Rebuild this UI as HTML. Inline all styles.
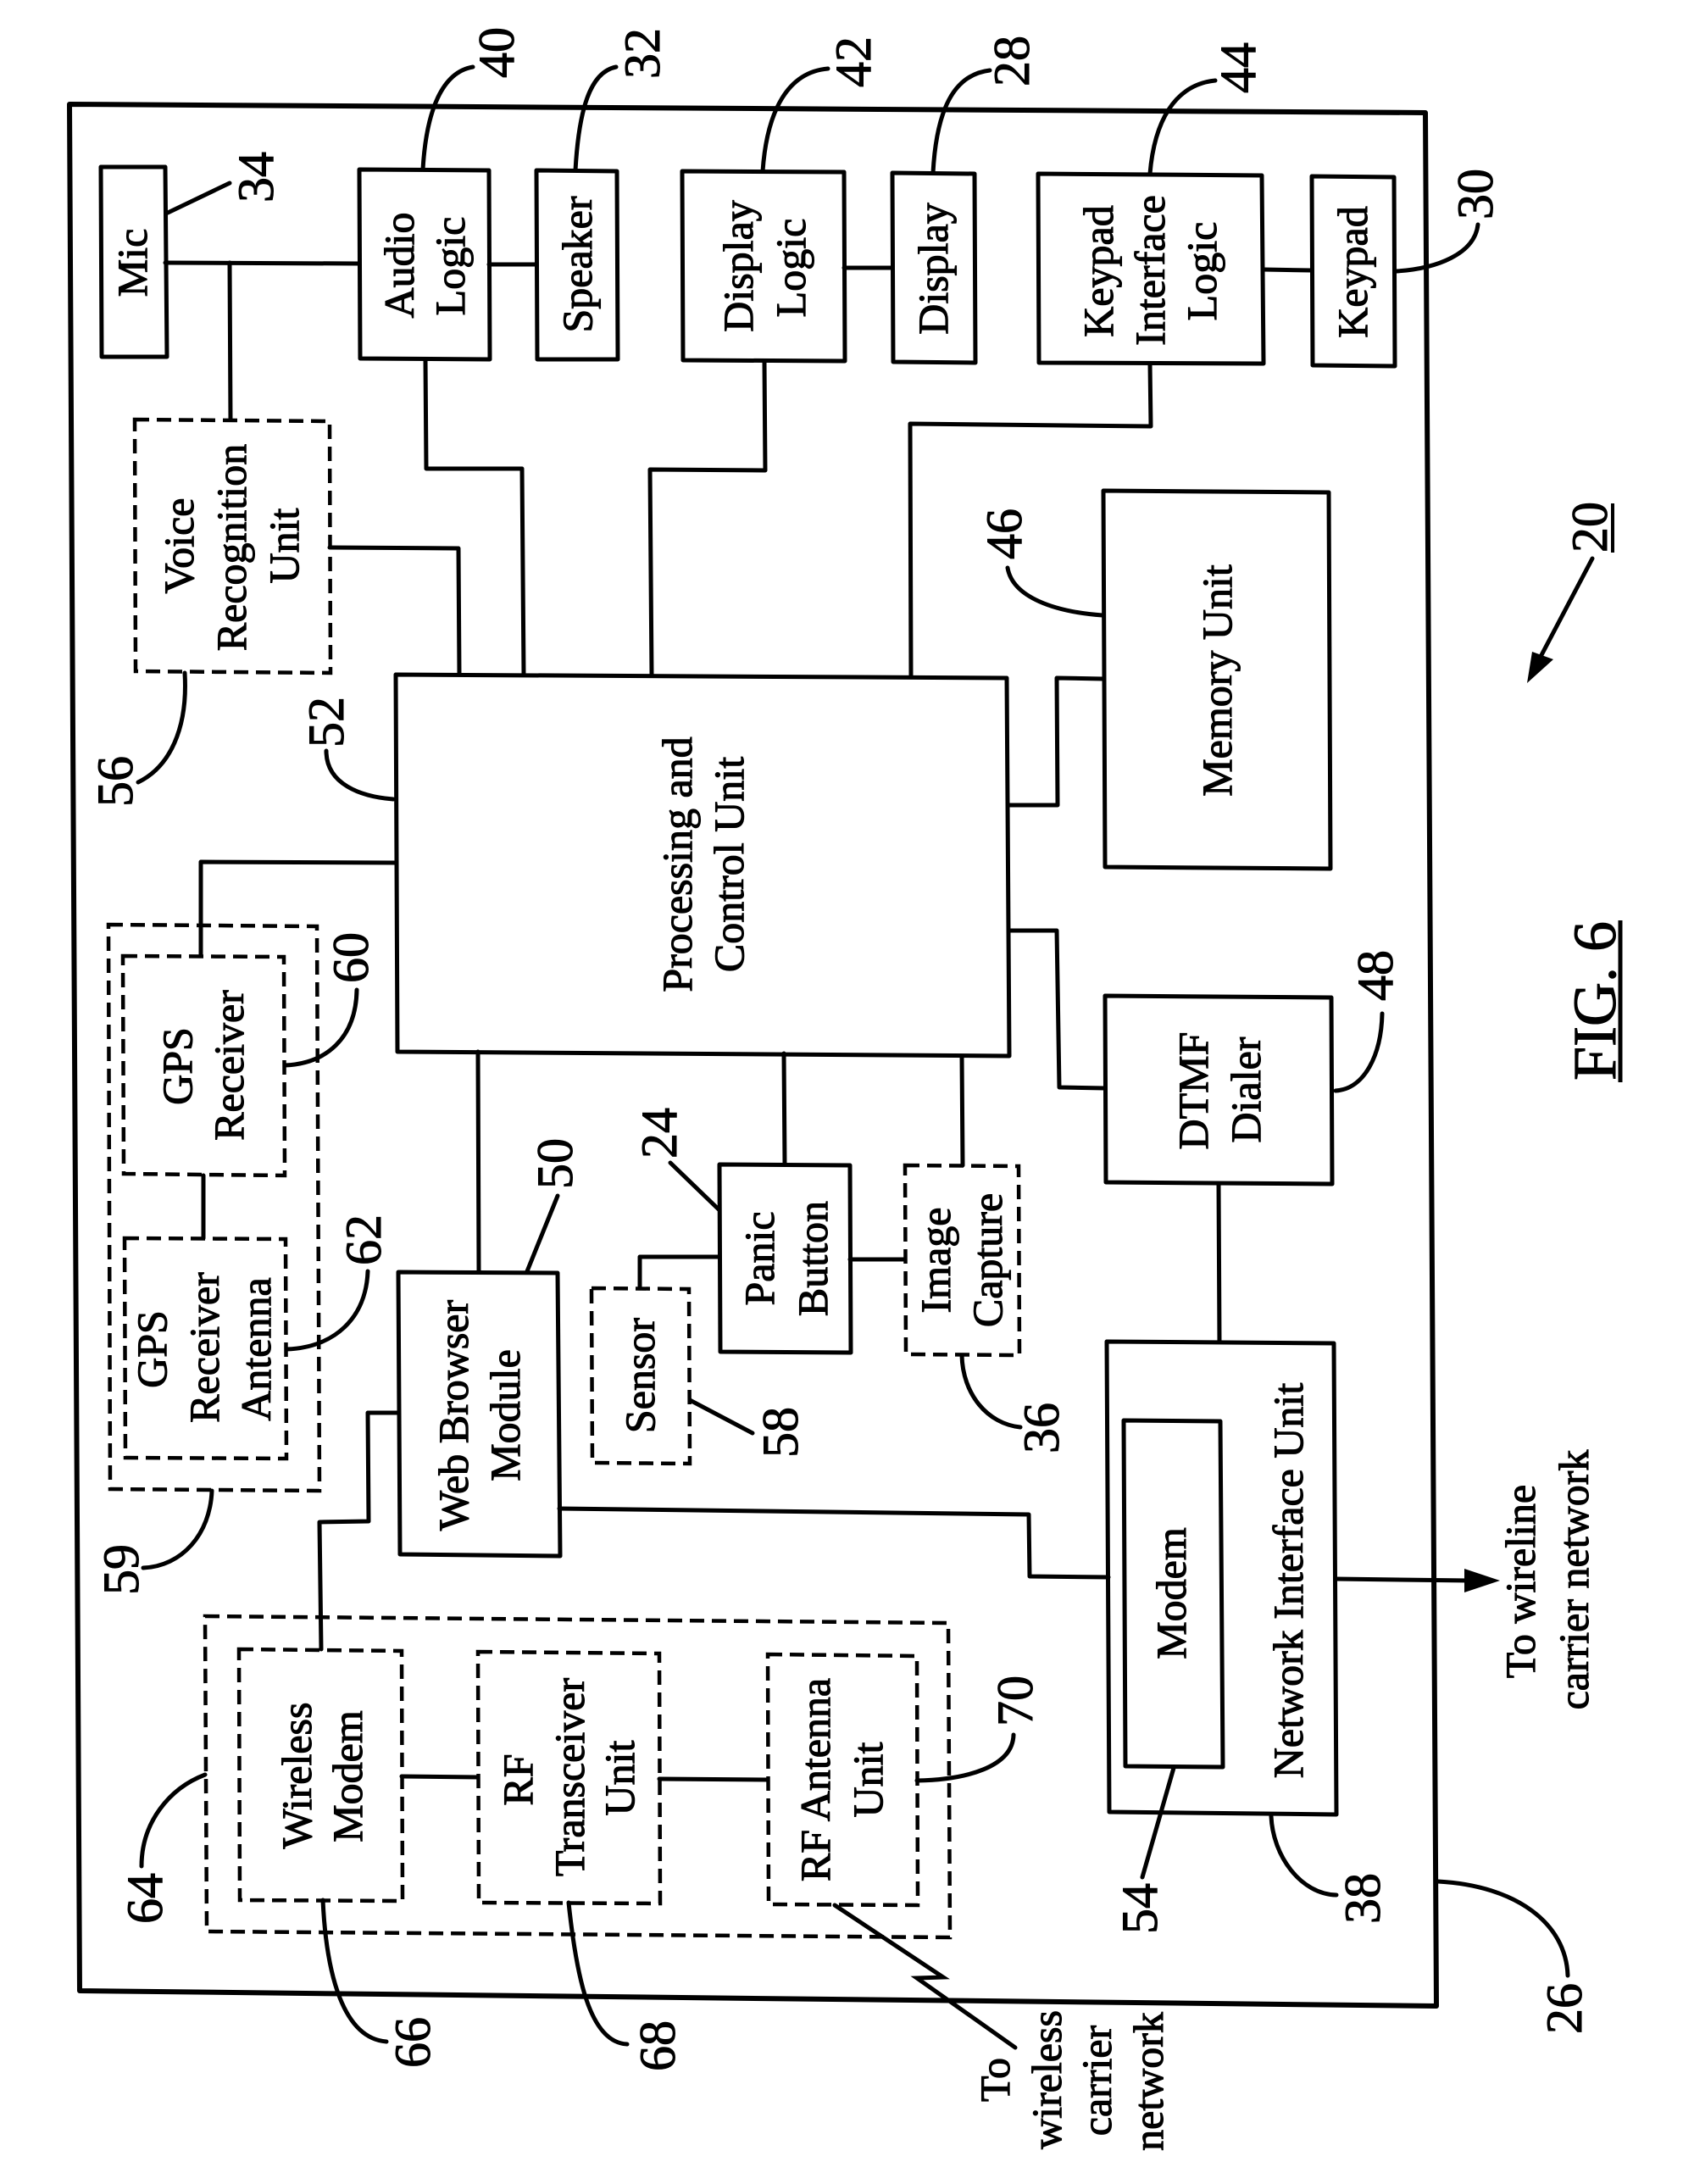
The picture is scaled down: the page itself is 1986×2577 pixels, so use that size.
<!DOCTYPE html>
<html>
<head>
<meta charset="utf-8">
<style>
html,body{margin:0;padding:0;background:#fff;width:1986px;height:2577px;overflow:hidden}
svg{display:block}
.b{fill:#fff;stroke:#000;stroke-width:5;stroke-linejoin:round}
.d{fill:none;stroke:#000;stroke-width:4.5;stroke-dasharray:17 9}
.l{fill:none;stroke:#000;stroke-width:5;stroke-linejoin:round;stroke-linecap:round}
.t{font-family:"Liberation Serif",serif;font-size:50px;fill:#000;stroke:#000;stroke-width:1.1;text-anchor:middle}
.n{font-family:"Liberation Serif",serif;font-size:60px;fill:#000;stroke:#000;stroke-width:1;text-anchor:middle}
</style>
</head>
<body>
<svg width="1986" height="2577" viewBox="0 0 1986 2577" xmlns="http://www.w3.org/2000/svg">
<rect width="1986" height="2577" fill="#fff"/>
<!-- frame -->
<polygon points="82,123 1682,133 1695,2367 94,2349" fill="#fff" stroke="#000" stroke-width="6" stroke-linejoin="round"/>

<!-- dashed boxes -->
<g class="d">
<polygon points="159,495 389,497 390,794 160,792"/>
<polygon points="128,1091 374,1093 377,1759 130,1757"/>
<polygon points="145,1128 335,1129 336,1387 146,1385"/>
<polygon points="147,1461 337,1462 338,1721 148,1720"/>
<polygon points="698,1520 813,1521 814,1727 699,1726"/>
<polygon points="1068,1375 1202,1376 1203,1599 1069,1598"/>
<polygon points="242,1907 1119,1915 1121,2286 244,2279"/>
<polygon points="282,1946 474,1948 475,2243 283,2242"/>
<polygon points="564,1949 778,1951 779,2246 565,2245"/>
<polygon points="906,1952 1082,1954 1083,2248 907,2247"/>
</g>

<!-- solid boxes -->
<g class="b">
<polygon points="119,197 195,197 197,421 120,421"/>
<polygon points="424,200 577,201 578,424 425,423"/>
<polygon points="633,201 728,202 729,424 634,424"/>
<polygon points="805,202 996,203 997,426 806,425"/>
<polygon points="1053,204 1150,205 1151,428 1054,427"/>
<polygon points="1225,205 1489,207 1491,429 1226,428"/>
<polygon points="1548,208 1645,209 1646,432 1549,431"/>
<polygon points="467,796 1188,800 1191,1246 469,1241"/>
<polygon points="1302,579 1568,581 1570,1025 1304,1023"/>
<polygon points="1304,1175 1571,1177 1572,1397 1305,1395"/>
<polygon points="1306,1583 1574,1585 1577,2141 1309,2138"/>
<polygon points="1326,1676 1440,1677 1443,2085 1328,2084"/>
<polygon points="470,1501 658,1502 661,1836 472,1834"/>
<polygon points="849,1374 1003,1375 1004,1596 850,1595"/>
</g>

<!-- leaders -->
<g class="l">
<path d="M499,200 C503,130 522,85 558,79"/>
<path d="M679,201 C683,130 696,85 727,79"/>
<path d="M900,202 C905,130 930,85 977,81"/>
<path d="M1101,204 C1105,130 1125,88 1168,83"/>
<path d="M1357,205 C1362,145 1385,100 1434,95"/>
<path d="M198,251 L271,216"/>
<path d="M1648,320 C1695,317 1740,300 1744,265"/>
<path d="M1301,726 C1245,722 1195,705 1189,670"/>
<path d="M218,794 C222,860 200,905 163,923"/>
<path d="M464,943 C425,940 385,925 385,886"/>
<path d="M336,1257 C385,1255 420,1225 421,1168"/>
<path d="M338,1592 C395,1590 432,1555 434,1500"/>
<path d="M622,1500 L658,1411"/>
<path d="M848,1427 L791,1372"/>
<path d="M814,1652 L888,1691"/>
<path d="M250,1759 C248,1810 215,1848 169,1850"/>
<path d="M1135,1599 C1136,1645 1165,1680 1204,1684"/>
<path d="M1576,1287 C1610,1285 1630,1245 1631,1196"/>
<path d="M1697,2220 C1790,2225 1848,2270 1850,2331"/>
<path d="M1500,2143 C1502,2190 1535,2235 1577,2236"/>
<path d="M1385,2086 L1348,2215"/>
<path d="M1082,2101 C1140,2100 1195,2085 1196,2047"/>
<path d="M242,2094 C200,2110 167,2150 167,2202"/>
<path d="M381,2242 C385,2330 405,2405 456,2409"/>
<path d="M671,2245 C680,2330 695,2410 740,2412"/>
<path d="M1879,659 L1810,790"/>
</g>
<polygon points="1802,806 1808,769 1833,778" fill="#000"/>

<!-- connectors -->
<g class="l">
<path d="M195,310 L424,311"/>
<path d="M271,310 L272,495"/>
<path d="M577,312 L633,312"/>
<path d="M996,316 L1053,316"/>
<path d="M1491,318 L1548,319"/>
<path d="M502,424 L503,553 L616,553 L618,796"/>
<path d="M902,426 L903,555 L767,554 L769,797"/>
<path d="M1357,429 L1358,503 L1074,500 L1075,798"/>
<path d="M389,646 L541,647 L542,796"/>
<path d="M1302,801 L1247,800 L1248,950 L1190,950"/>
<path d="M1190,1098 L1247,1098 L1250,1283 L1304,1284"/>
<path d="M1438,1397 L1439,1583"/>
<path d="M1135,1246 L1136,1375"/>
<path d="M925,1243 L926,1374"/>
<path d="M564,1241 L565,1501"/>
<path d="M468,1018 L237,1017 L237,1128"/>
<path d="M240,1387 L240,1461"/>
<path d="M1003,1486 L1068,1486"/>
<path d="M755,1520 L755,1483 L849,1483"/>
<path d="M470,1667 L434,1667 L435,1795 L377,1796 L379,1946"/>
<path d="M660,1780 L1214,1787 L1215,1860 L1308,1861"/>
<path d="M474,2096 L564,2097"/>
<path d="M778,2099 L906,2100"/>
<path d="M1576,1863 L1735,1865"/>
<path d="M985,2248 L1113,2333 L1082,2334 L1198,2416" stroke-linejoin="miter"/>
</g>
<polygon points="1770,1865 1728,1851 1728,1879" fill="#000"/>

<!-- box labels -->
<g class="t">
<text x="173" y="310" transform="rotate(-90 173 310)">Mic</text>
<text x="488" y="313" transform="rotate(-90 488 313)">Audio</text>
<text x="548" y="314" transform="rotate(-90 548 314)">Logic</text>
<text x="698" y="312" transform="rotate(-90 698 312)">Speaker</text>
<text x="888" y="314" transform="rotate(-90 888 314)">Display</text>
<text x="950" y="316" transform="rotate(-90 950 316)">Logic</text>
<text x="1118" y="317" transform="rotate(-90 1118 317)">Display</text>
<text x="1313" y="320" transform="rotate(-90 1313 320)">Keypad</text>
<text x="1374" y="319" transform="rotate(-90 1374 319)">Interface</text>
<text x="1435" y="320" transform="rotate(-90 1435 320)">Logic</text>
<text x="1613" y="321" transform="rotate(-90 1613 321)">Keypad</text>
<text x="228" y="644" transform="rotate(-90 228 644)">Voice</text>
<text x="290" y="646" transform="rotate(-90 290 646)">Recognition</text>
<text x="352" y="644" transform="rotate(-90 352 644)">Unit</text>
<text x="816" y="1020" transform="rotate(-90 816 1020)">Processing and</text>
<text x="877" y="1020" transform="rotate(-90 877 1020)">Control Unit</text>
<text x="1453" y="803" transform="rotate(-90 1453 803)">Memory Unit</text>
<text x="1425" y="1287" transform="rotate(-90 1425 1287)">DTMF</text>
<text x="1487" y="1286" transform="rotate(-90 1487 1286)">Dialer</text>
<text x="1399" y="1880" transform="rotate(-90 1399 1880)">Modem</text>
<text x="1537" y="1865" transform="rotate(-90 1537 1865)">Network Interface Unit</text>
<text x="1811" y="1866" transform="rotate(-90 1811 1866)">To wireline</text>
<text x="1874" y="1864" transform="rotate(-90 1874 1864)">carrier network</text>
<text x="1191" y="2454" transform="rotate(-90 1191 2454)">To</text>
<text x="1252" y="2454" transform="rotate(-90 1252 2454)">wireless</text>
<text x="1311" y="2455" transform="rotate(-90 1311 2455)">carrier</text>
<text x="1372" y="2456" transform="rotate(-90 1372 2456)">network</text>
<text x="226" y="1258" transform="rotate(-90 226 1258)">GPS</text>
<text x="287" y="1257" transform="rotate(-90 287 1257)">Receiver</text>
<text x="196" y="1592" transform="rotate(-90 196 1592)">GPS</text>
<text x="258" y="1590" transform="rotate(-90 258 1590)">Receiver</text>
<text x="319" y="1592" transform="rotate(-90 319 1592)">Antenna</text>
<text x="552" y="1670" transform="rotate(-90 552 1670)">Web Browser</text>
<text x="613" y="1670" transform="rotate(-90 613 1670)">Module</text>
<text x="772" y="1623" transform="rotate(-90 772 1623)">Sensor</text>
<text x="913" y="1485" transform="rotate(-90 913 1485)">Panic</text>
<text x="976" y="1485" transform="rotate(-90 976 1485)">Button</text>
<text x="1121" y="1487" transform="rotate(-90 1121 1487)">Image</text>
<text x="1182" y="1487" transform="rotate(-90 1182 1487)">Capture</text>
<text x="367" y="2095" transform="rotate(-90 367 2095)">Wireless</text>
<text x="427" y="2096" transform="rotate(-90 427 2096)">Modem</text>
<text x="628" y="2100" transform="rotate(-90 628 2100)">RF</text>
<text x="689" y="2097" transform="rotate(-90 689 2097)">Transceiver</text>
<text x="748" y="2098" transform="rotate(-90 748 2098)">Unit</text>
<text x="979" y="2100" transform="rotate(-90 979 2100)">RF Antenna</text>
<text x="1041" y="2100" transform="rotate(-90 1041 2100)">Unit</text>
</g>

<!-- reference numerals -->
<g class="n">
<text x="606" y="62" transform="rotate(-90 606 62)">40</text>
<text x="778" y="63" transform="rotate(-90 778 63)">32</text>
<text x="1027" y="73" transform="rotate(-90 1027 73)">42</text>
<text x="1214" y="72" transform="rotate(-90 1214 72)">28</text>
<text x="1481" y="80" transform="rotate(-90 1481 80)">44</text>
<text x="322" y="209" transform="rotate(-90 322 209)">34</text>
<text x="1761" y="229" transform="rotate(-90 1761 229)">30</text>
<text x="1205" y="630" transform="rotate(-90 1205 630)">46</text>
<text x="156" y="922" transform="rotate(-90 156 922)">56</text>
<text x="405" y="852" transform="rotate(-90 405 852)">52</text>
<text x="434" y="1130" transform="rotate(-90 434 1130)">60</text>
<text x="449" y="1463" transform="rotate(-90 449 1463)">62</text>
<text x="675" y="1373" transform="rotate(-90 675 1373)">50</text>
<text x="798" y="1337" transform="rotate(-90 798 1337)">24</text>
<text x="941" y="1690" transform="rotate(-90 941 1690)">58</text>
<text x="163" y="1852" transform="rotate(-90 163 1852)">59</text>
<text x="1249" y="1685" transform="rotate(-90 1249 1685)">36</text>
<text x="1643" y="1151" transform="rotate(-90 1643 1151)">48</text>
<text x="1866" y="2370" transform="rotate(-90 1866 2370)">26</text>
<text x="1628" y="2240" transform="rotate(-90 1628 2240)">38</text>
<text x="1365" y="2252" transform="rotate(-90 1365 2252)">54</text>
<text x="1218" y="2007" transform="rotate(-90 1218 2007)">70</text>
<text x="191" y="2240" transform="rotate(-90 191 2240)">64</text>
<text x="507" y="2410" transform="rotate(-90 507 2410)">66</text>
<text x="796" y="2414" transform="rotate(-90 796 2414)">68</text>
<text x="1896" y="622" transform="rotate(-90 1896 622)">20</text>
</g>
<line x1="1903" y1="594" x2="1903" y2="652" stroke="#000" stroke-width="4"/>

<text x="1906" y="1181" transform="rotate(-90 1906 1181)" font-family="Liberation Serif, serif" font-size="72" text-anchor="middle" fill="#000" stroke="#000" stroke-width="1">FIG. 6</text>
<line x1="1912" y1="1086" x2="1912" y2="1277" stroke="#000" stroke-width="5"/>
</svg>
</body>
</html>
